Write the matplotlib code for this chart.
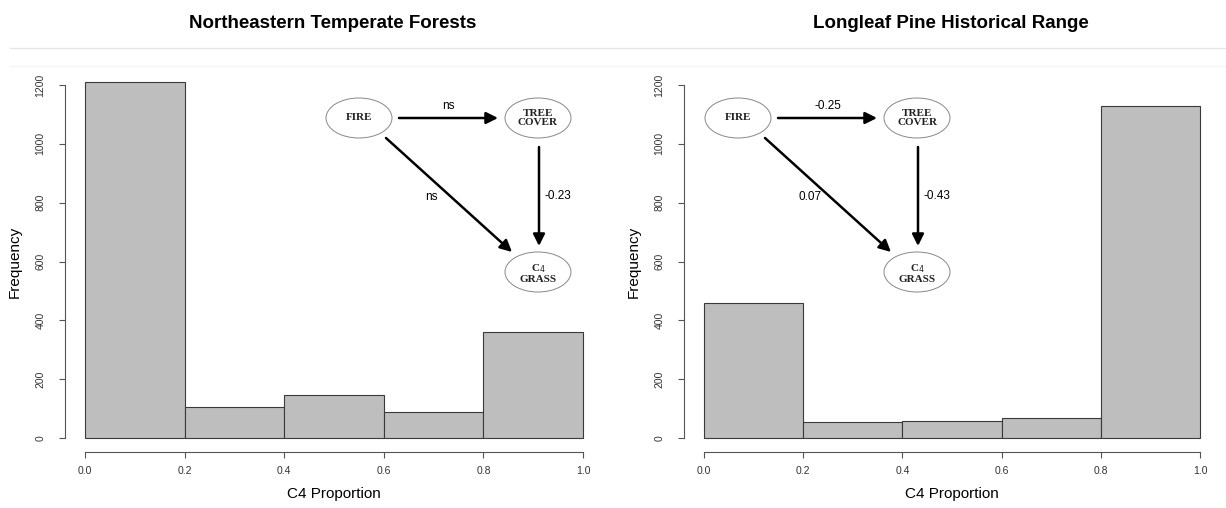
"""Two R-style histograms of C4 proportion with SEM path diagrams overlaid."""
import matplotlib
matplotlib.use("Agg")
import matplotlib.pyplot as plt
from matplotlib.patches import Ellipse

# histogram breaks and counts
breaks = [0.0, 0.2, 0.4, 0.6, 0.8, 1.0]
ne_counts = [1210, 106, 146, 87, 361]
ll_counts = [460, 53, 56, 69, 1128]

titles = ["Northeastern Temperate Forests", "Longleaf Pine Historical Range"]
x_label = "C4 Proportion"
y_label = "Frequency"

# path coefficients: fire->tree, fire->grass, tree->grass
ne_paths = ["ns", "ns", "-0.23"]
ll_paths = ["-0.25", "0.07", "-0.43"]

W, H = 1226, 508
fig = plt.figure(figsize=(W / 100, H / 100), dpi=100)
plt.rcParams["font.family"] = ["Liberation Sans", "DejaVu Sans"]


def px_axes(x0, x1, y0, y1):
    return fig.add_axes([x0 / W, 1 - y1 / H, (x1 - x0) / W, (y1 - y0) / H])


def hist_panel(ax, counts):
    widths = [b1 - b0 for b0, b1 in zip(breaks[:-1], breaks[1:])]
    ax.bar(breaks[:-1], counts, width=widths, align="edge",
           color="#bebebe", edgecolor="#3a3a3a", lw=0.8)
    ax.set_xlim(-0.04, 1.04)
    ax.set_ylim(-48, 1248)
    for s in ("top", "right"):
        ax.spines[s].set_visible(False)
    ax.spines["left"].set_bounds(0, 1200)
    ax.spines["bottom"].set_bounds(0, 1)
    for s in ("left", "bottom"):
        ax.spines[s].set_color("#555555")
        ax.spines[s].set_linewidth(0.8)
    ax.set_xticks(breaks)
    ax.set_xticklabels([f"{b:.1f}" for b in breaks])
    ax.set_yticks(range(0, 1201, 200))
    ax.set_yticklabels([str(v) for v in range(0, 1201, 200)],
                       rotation=90, va="center")
    ax.tick_params(labelsize=7.5, length=4, color="#555555", labelcolor="#333333")
    ax.tick_params(axis="x", pad=6)
    ax.tick_params(axis="y", pad=10)
    ax.set_xlabel(x_label, fontsize=11, labelpad=8)
    ax.set_ylabel(y_label, fontsize=11, labelpad=10)
    ax.patch.set_alpha(0)


ax1 = px_axes(65, 603, 71, 452)
ax2 = px_axes(684, 1220, 71, 452)
hist_panel(ax1, ne_counts)
hist_panel(ax2, ll_counts)

# overlay in pixel coordinates for titles, separator and diagrams
ov = fig.add_axes([0, 0, 1, 1], zorder=10)
ov.set_xlim(0, W)
ov.set_ylim(H, 0)
ov.axis("off")
ov.patch.set_alpha(0)

ov.text(333, 23, titles[0], ha="center", va="center", fontsize=13.5, fontweight="bold")
ov.text(951, 23, titles[1], ha="center", va="center", fontsize=13.5, fontweight="bold")
ov.plot([10, W], [48, 48], color="#e6e6e6", lw=1)
ov.plot([10, W], [66, 66], color="#f4f4f4", lw=1)

serif = dict(family=["Liberation Serif", "DejaVu Serif"], fontweight="bold",
             fontsize=8, ha="center", va="center", color="#222222")


def diagram(fx, fy, tx, ty, labels):
    gx, gy = tx, ty + 154
    for cx, cy in [(fx, fy), (tx, ty), (gx, gy)]:
        ov.add_patch(Ellipse((cx, cy), 66, 40, fill=False, ec="#888888", lw=0.7))
    ov.text(fx, fy, "FIRE", **serif)
    ov.text(tx, ty, "TREE\nCOVER", linespacing=1.0, **serif)
    ov.text(gx, gy + 1, "C$_4$\nGRASS", linespacing=1.0, **serif)
    arrow = dict(arrowstyle="-|>,head_length=0.7,head_width=0.35", lw=1.8,
                 color="black", shrinkA=0, shrinkB=0)
    ov.annotate("", xy=(tx - 40, ty), xytext=(fx + 40, fy), arrowprops=arrow)
    ov.annotate("", xy=(tx + 1, gy - 26), xytext=(tx + 1, ty + 29), arrowprops=arrow)
    ov.annotate("", xy=(gx - 26, gy - 20), xytext=(fx + 27, fy + 20), arrowprops=arrow)
    ov.text((fx + tx) / 2, fy - 12, labels[0], ha="center", va="center", fontsize=8.5)
    ov.text(fx + 72, fy + 79, labels[1], ha="center", va="center", fontsize=8.5)
    ov.text(tx + 20, ty + 78, labels[2], ha="center", va="center", fontsize=8.5)


diagram(359, 118, 538, 118, ne_paths)
diagram(738, 118, 917, 118, ll_paths)

fig.savefig("out.png", dpi=100)
